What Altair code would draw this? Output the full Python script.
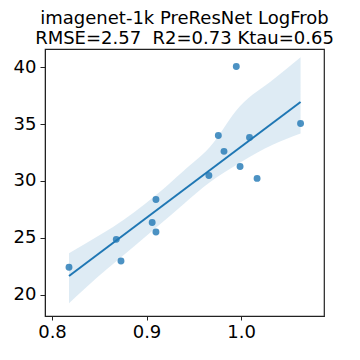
import altair as alt
import numpy as np
import pandas as pd

x_vals = [0.818, 0.868, 0.873, 0.906, 0.910, 0.910, 0.966, 0.976, 0.982, 0.995, 0.999, 1.009, 1.017, 1.063]
y_vals = [22.4, 24.86, 22.95, 26.35, 28.37, 25.5, 30.48, 34.0, 32.6, 40.06, 31.27, 33.82, 30.22, 35.05]

# confidence band edges
band_x = [0.818, 0.8576, 0.8646, 0.910, 0.9388, 0.9663, 0.9988, 1.0341, 1.063]
band_lo = [19.24, 22.22, 22.7, 25.88, 27.93, 29.83, 31.59, 33.2, 34.17]
band_hi = [23.63, 25.6, 25.95, 28.75, 30.86, 32.91, 36.57, 38.92, 40.88]

x_ticks = [0.8, 0.9, 1.0]
y_ticks = [20, 25, 30, 35, 40]
title_lines = ["imagenet-1k PreResNet LogFrob", "RMSE=2.57\u00a0 R2=0.73 Ktau=0.65"]

pts = pd.DataFrame({"x": x_vals, "y": y_vals})
band = pd.DataFrame({"x": band_x, "lo": band_lo, "hi": band_hi})

# least squares fit line over the data range
xa = np.array(x_vals)
ya = np.array(y_vals)
b, a = np.polyfit(xa, ya, 1)
fit = pd.DataFrame({"x": [xa.min(), xa.max()]})
fit["fit"] = a + b * fit["x"]

xscale = alt.Scale(domain=[0.7926, 1.0878], nice=False, zero=False)
yscale = alt.Scale(domain=[18.12, 41.6], nice=False, zero=False)

xaxis = alt.Axis(values=x_ticks, format=".1f", title=None, grid=False, labelFontSize=18,
                 labelColor="black", tickColor="#222", domainColor="#222", tickSize=4,
                 labelPadding=3, labelFont="DejaVu Sans", labelFlush=False)
yaxis = alt.Axis(values=y_ticks, title=None, grid=False, labelFontSize=18,
                 labelColor="black", tickColor="#222", domainColor="#222", tickSize=5,
                 labelPadding=4, labelFont="DejaVu Sans")

area = alt.Chart(band).mark_area(color="#1f77b4", opacity=0.15, interpolate="monotone").encode(
    x=alt.X("x:Q", scale=xscale, axis=xaxis),
    y=alt.Y("lo:Q", scale=yscale, axis=yaxis),
    y2="hi:Q",
)
line = alt.Chart(fit).mark_line(color="#1f77b4", strokeWidth=2).encode(
    x=alt.X("x:Q", scale=xscale),
    y=alt.Y("fit:Q", scale=yscale),
)
points = alt.Chart(pts).mark_circle(color="#1f77b4", opacity=0.8, size=48).encode(
    x=alt.X("x:Q", scale=xscale),
    y=alt.Y("y:Q", scale=yscale),
)

chart = (area + line + points).properties(
    width=279,
    height=267,
    title=alt.TitleParams(title_lines, fontSize=18, font="DejaVu Sans", fontWeight="normal",
                          color="black", anchor="middle", offset=1, lineHeight=20),
    autosize=alt.AutoSizeParams(type="none"),
    padding={"left": 37, "top": 41, "right": 28, "bottom": 36},
).configure_view(stroke="#222", strokeWidth=1.2)

chart.save("out.html", embed_options={"renderer": "svg", "actions": False})
